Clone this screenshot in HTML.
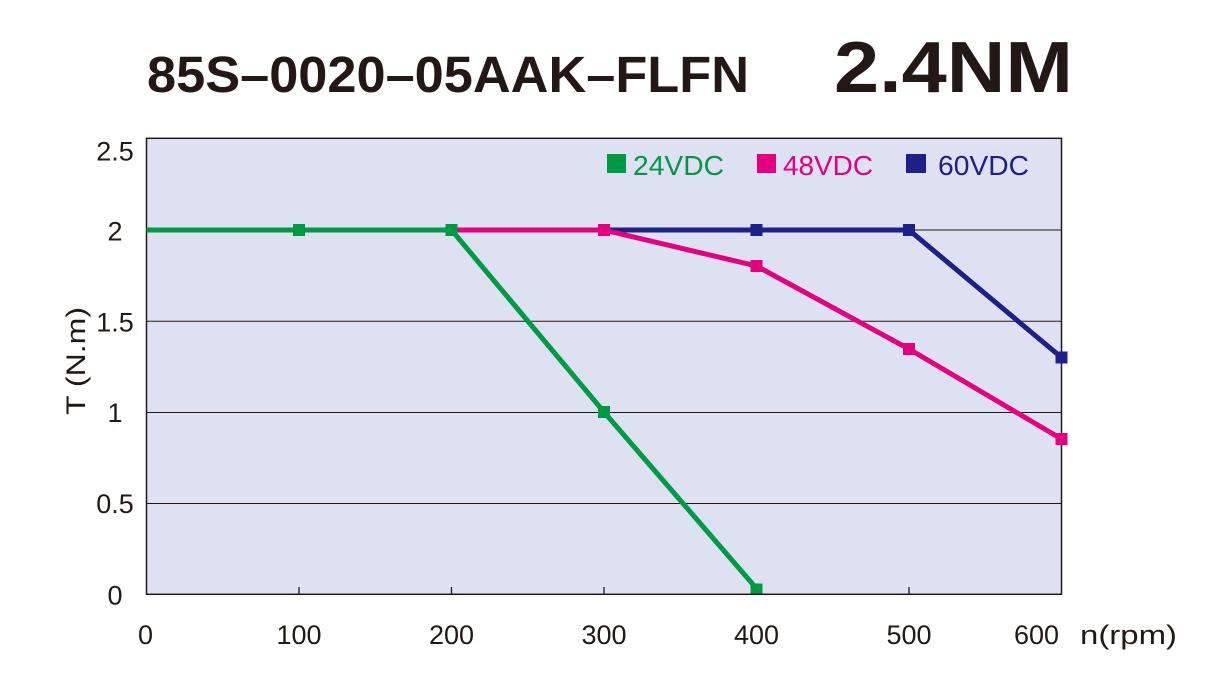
<!DOCTYPE html>
<html>
<head>
<meta charset="utf-8">
<style>
  html, body { margin: 0; padding: 0; background: #ffffff; }
  svg { display: block; }
  text { font-family: "Liberation Sans", Arial, sans-serif; fill: #231815; }
</style>
</head>
<body>
<svg width="1222" height="683" viewBox="0 0 1222 683" xmlns="http://www.w3.org/2000/svg">
  <!-- Title -->
  <text x="147" y="92" font-size="51" font-weight="bold" textLength="602" lengthAdjust="spacingAndGlyphs">85S–0020–05AAK–FLFN</text>
  <text x="834" y="92" font-size="72" font-weight="bold" textLength="239" lengthAdjust="spacingAndGlyphs">2.4NM</text>

  <!-- Plot background -->
  <rect x="146.5" y="138.3" width="915" height="456" fill="#dee1f2"/>

  <!-- Gridlines -->
  <g stroke="#231815" stroke-width="1">
    <line x1="146.5" y1="230" x2="1061.5" y2="230"/>
    <line x1="146.5" y1="321.3" x2="1061.5" y2="321.3"/>
    <line x1="146.5" y1="412.5" x2="1061.5" y2="412.5"/>
    <line x1="146.5" y1="503.5" x2="1061.5" y2="503.5"/>
  </g>
  <!-- Frame -->
  <rect x="146.5" y="138.3" width="915" height="456" fill="none" stroke="#231815" stroke-width="1.5"/>
  <!-- Bottom ticks -->
  <g stroke="#231815" stroke-width="1.3">
    <line x1="299" y1="594" x2="299" y2="587"/>
    <line x1="451.5" y1="594" x2="451.5" y2="587"/>
    <line x1="604" y1="594" x2="604" y2="587"/>
    <line x1="756.5" y1="594" x2="756.5" y2="587"/>
    <line x1="909" y1="594" x2="909" y2="587"/>
  </g>

  <!-- Blue 60VDC -->
  <polyline points="146.5,230 299,230 451.5,230 604,230 756.5,230 909,230 1061.5,357.5" fill="none" stroke="#1d2088" stroke-width="5" stroke-linejoin="miter"/>
  <g fill="#1d2088">
    <rect x="750.5" y="224" width="12" height="12"/>
    <rect x="903" y="224" width="12" height="12"/>
    <rect x="1055.5" y="351.5" width="12" height="12"/>
  </g>

  <!-- Magenta 48VDC -->
  <polyline points="146.5,230 299,230 451.5,230 604,230 756.5,266 909,349 1061.5,439" fill="none" stroke="#e4007f" stroke-width="5" stroke-linejoin="miter"/>
  <g fill="#e4007f">
    <rect x="598" y="224" width="12" height="12"/>
    <rect x="750.5" y="260" width="12" height="12"/>
    <rect x="903" y="343" width="12" height="12"/>
    <rect x="1055.5" y="433" width="12" height="12"/>
  </g>

  <!-- Green 24VDC -->
  <polyline points="146.5,230 299,230 451.5,230 604,412 756.5,588.5" fill="none" stroke="#009944" stroke-width="5" stroke-linejoin="miter"/>
  <g fill="#009944">
    <rect x="293" y="224" width="12" height="12"/>
    <rect x="445.5" y="224" width="12" height="12"/>
    <rect x="598" y="406" width="12" height="12"/>
    <rect x="750.5" y="583.5" width="12" height="10"/>
  </g>

  <!-- Legend -->
  <rect x="607" y="154" width="19" height="19" fill="#009944"/>
  <text x="633" y="175" font-size="28" style="fill:#009944" textLength="91" lengthAdjust="spacingAndGlyphs">24VDC</text>
  <rect x="757" y="154" width="19" height="19" fill="#e4007f"/>
  <text x="783" y="175" font-size="28" style="fill:#e4007f" textLength="90" lengthAdjust="spacingAndGlyphs">48VDC</text>
  <rect x="906" y="154" width="20" height="19" fill="#1d2088"/>
  <text x="938" y="175" font-size="28" style="fill:#1d2088" textLength="91" lengthAdjust="spacingAndGlyphs">60VDC</text>

  <!-- Y tick labels -->
  <g font-size="27" text-anchor="middle">
    <text x="115" y="160.5">2.5</text>
    <text x="115" y="240.5">2</text>
    <text x="115" y="331.5">1.5</text>
    <text x="115" y="422">1</text>
    <text x="115" y="513">0.5</text>
    <text x="115" y="604.5">0</text>
  </g>

  <!-- X tick labels -->
  <g font-size="27" text-anchor="middle">
    <text x="145.5" y="644">0</text>
    <text x="299" y="644">100</text>
    <text x="451.5" y="644">200</text>
    <text x="604" y="644">300</text>
    <text x="756.5" y="644">400</text>
    <text x="909" y="644">500</text>
    <text x="1036.5" y="644">600</text>
  </g>
  <text x="1080" y="644" font-size="27" textLength="97" lengthAdjust="spacingAndGlyphs">n(rpm)</text>

  <!-- Y axis title -->
  <text x="-54" y="0" font-size="27" textLength="108" lengthAdjust="spacingAndGlyphs" transform="translate(85,361) rotate(-90)">T (N.m)</text>
</svg>
</body>
</html>
